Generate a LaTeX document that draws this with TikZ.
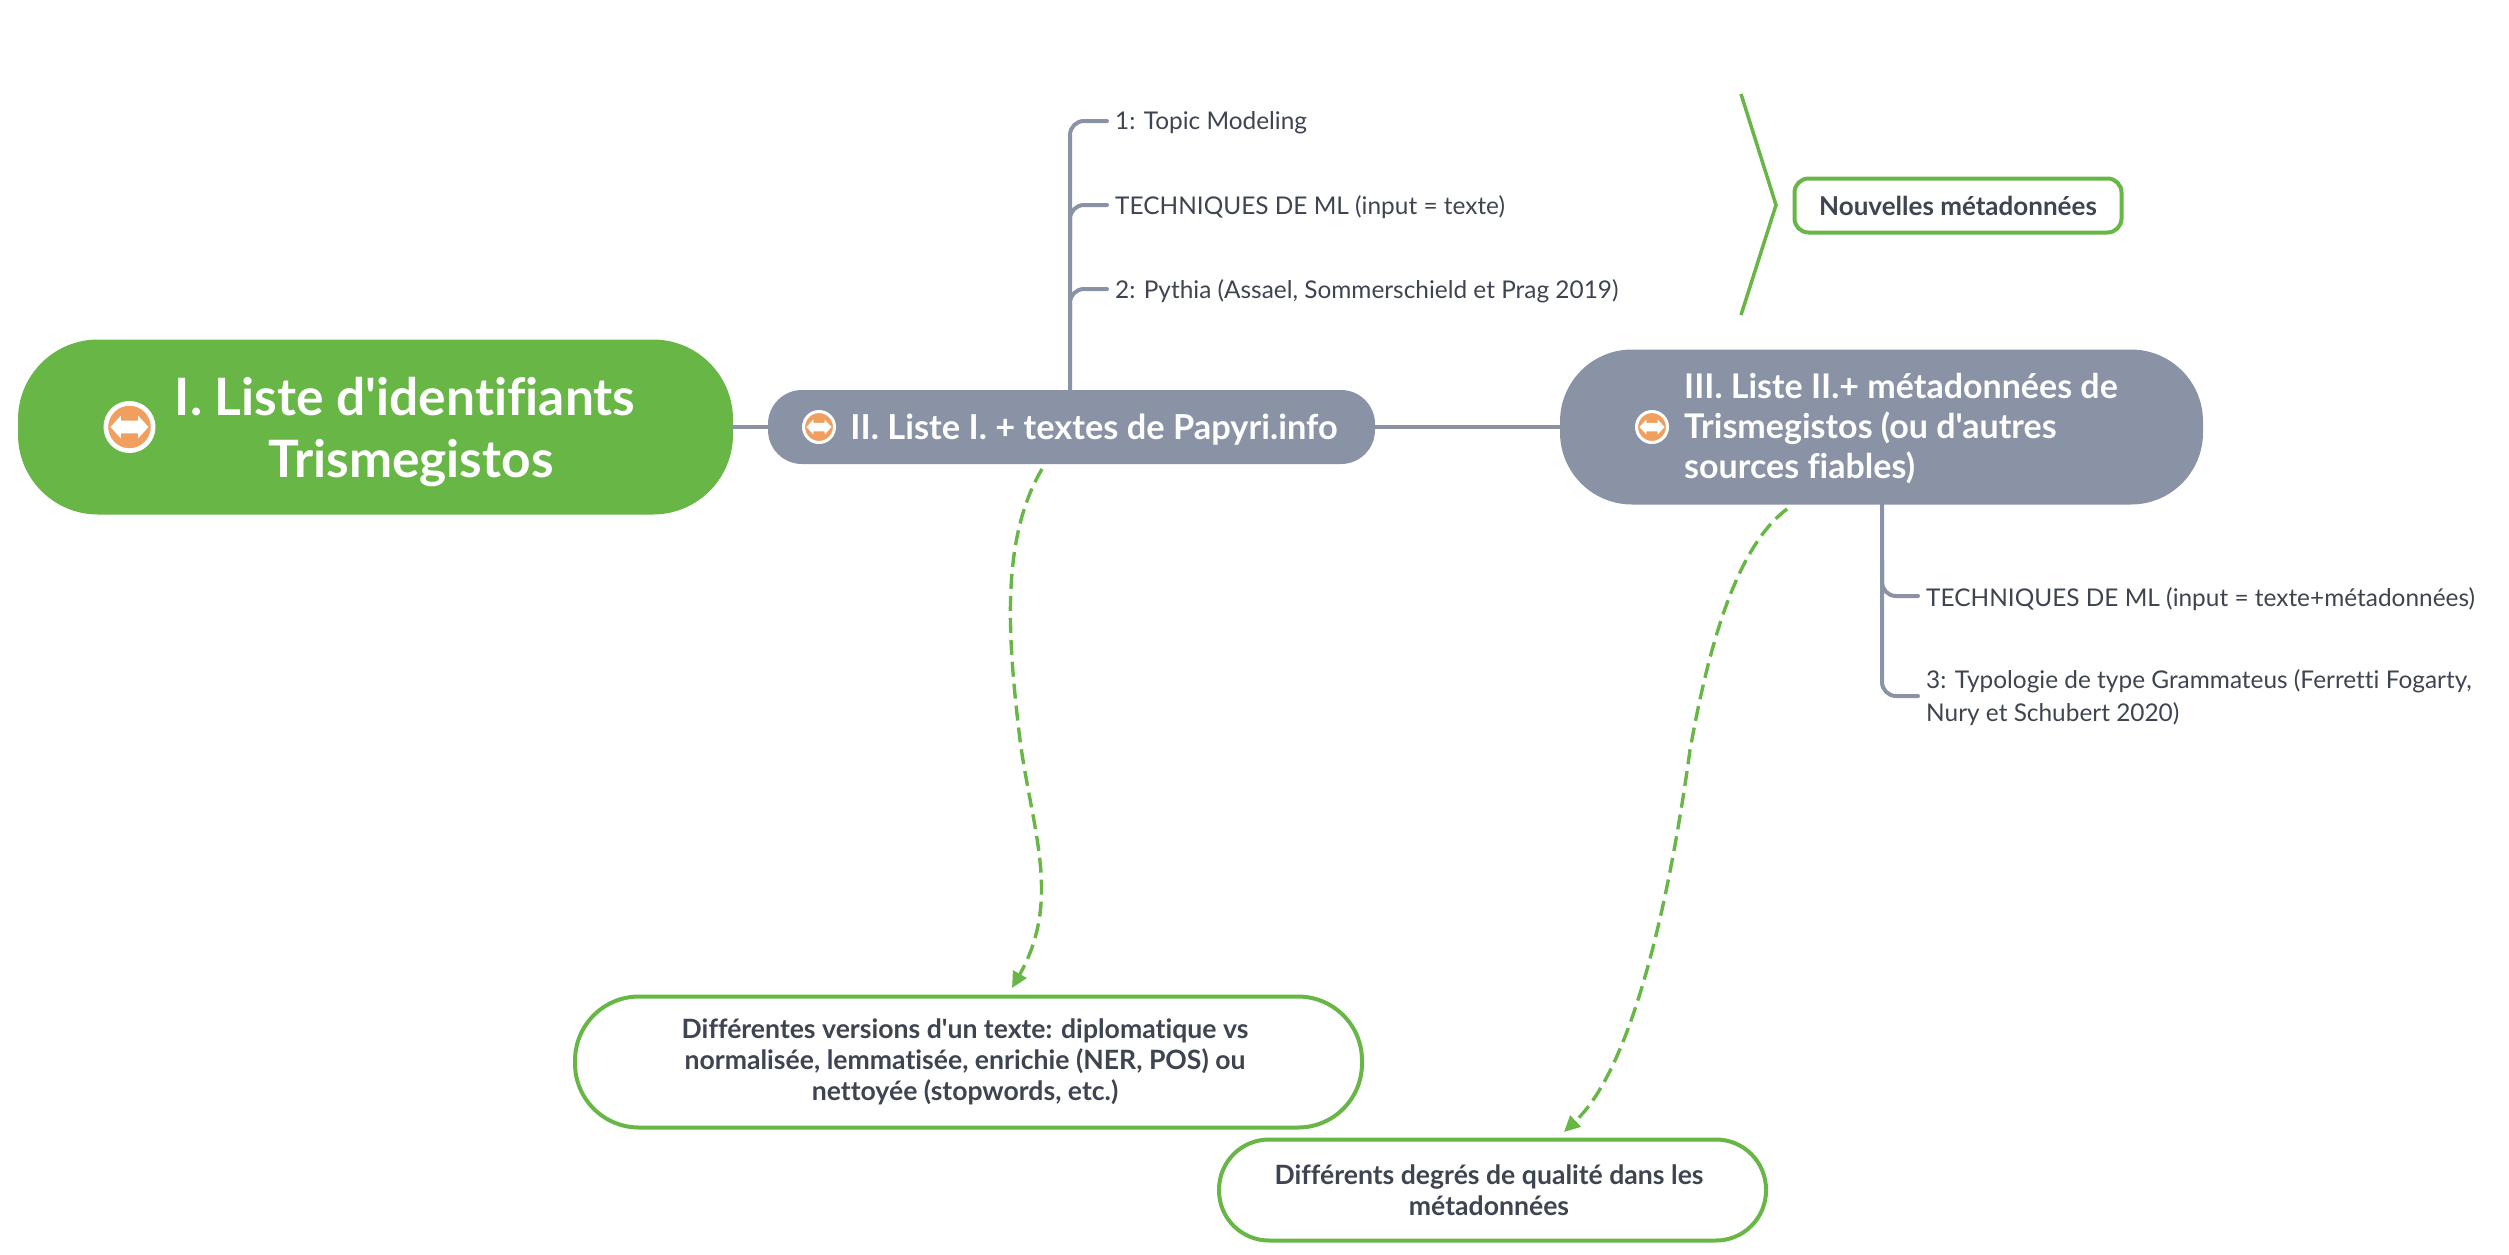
\documentclass[tikz,border=0pt]{standalone}
\usepackage{fontspec}
\setmainfont{Lato}[Ligatures={TeXOff,NoCommon}]
\usetikzlibrary{arrows.meta}
\definecolor{grn}{HTML}{67B646}
\definecolor{gry}{HTML}{8A93A5}
\definecolor{org}{HTML}{F09F5F}
\definecolor{ink}{HTML}{3E4450}
\newcommand{\nudge}{\rule{7pt}{0pt}}
\tikzset{
  x=1pt,y=-1pt,
  topic/.style={fill=#1,draw=none,inner sep=0pt},
  note/.style={draw=grn,line width=4pt,fill=white,text=ink,align=center,font=\fontsize{26.6}{31}\selectfont\bfseries,inner sep=0pt},
  leaf/.style={anchor=west,inner sep=0pt,text=ink,align=left,font=\fontsize{24.4}{33}\selectfont},
  head/.style={text=white,inner sep=0pt,font=\bfseries},
  trunk/.style={draw=gry,line width=4pt,line cap=round},
  link/.style={draw=grn,line width=3.4pt,dash pattern=on 15pt off 7pt,-{Triangle[length=16pt,width=15pt,fill=grn]}},
  ico/.style={circle,fill=org,draw=white,line width=#1*0.18pt,minimum size=#1*1.82pt,inner sep=0pt},
}
\newcommand{\glyph}[2]{% centre node, half-size
  \fill[white,shift={(#1.center)},scale=#2]
    (-1,0) -- (-.45,-.6) -- (-.45,-.34) -- (.45,-.34) -- (.45,-.6) -- (1,0)
    -- (.45,.6) -- (.45,.34) -- (-.45,.34) -- (-.45,.6) -- cycle;}
\begin{document}
\begin{tikzpicture}
\useasboundingbox (0,0) rectangle (2509,1254);
% topic shapes
\node[topic=grn,rounded corners=80pt,minimum width=715pt,minimum height=175pt] (root) at (375.5,427) {};
\node[topic=gry,rounded corners=34pt,minimum width=607pt,minimum height=74pt] (two) at (1071.5,427) {};
\node[topic=gry,rounded corners=72pt,minimum width=643pt,minimum height=155pt] (three) at (1881.5,427) {};
% connectors
\draw[trunk] (root.east) -- (two.west);
\draw[trunk] (two.east) -- (three.west);
\coordinate (t0) at (1070,390);
\coordinate (t1) at (1107,121);
\coordinate (t2) at (1107,205);
\coordinate (t3) at (1107,289);
\draw[trunk,rounded corners=14pt] (t0) -- (1070,121) -- (t1);
\draw[trunk,rounded corners=14pt] (1070,240) -- (1070,205) -- (t2);
\draw[trunk,rounded corners=14pt] (1070,320) -- (1070,289) -- (t3);
\coordinate (u0) at (1882,504);
\coordinate (u1) at (1918,596);
\coordinate (u2) at (1918,696);
\draw[trunk,rounded corners=14pt] (u0) -- (1882,696) -- (u2);
\draw[trunk,rounded corners=14pt] (1882,560) -- (1882,596) -- (u1);
% head text
\node[head,align=center,font=\fontsize{51.5}{62}\selectfont\bfseries] (roottext) at (405,432) {I. Liste d'identifiants\rule{0pt}{0pt}\\\hspace*{12pt}Trismegistos};
\node[head,font=\fontsize{34.4}{40}\selectfont\bfseries] (twotext) at (1094,430) {II. Liste I. + textes de Papyri.info};
\node[head,anchor=west,align=left,font=\fontsize{34}{40}\selectfont\bfseries] (threetext) at (1684,429) {III. Liste II.+ métadonnées de\\Trismegistos (ou d'autres\\sources fiables)};
% icons
\node[ico=26] (i1) at (129.5,427) {};
\glyph{i1}{19}
\node[ico=17] (i2) at (819,427) {};
\glyph{i2}{12.5}
\node[ico=17] (i3) at (1652,427) {};
\glyph{i3}{12.5}
% leaves
\node[leaf] (a1) at (1115,123) {1: Topic Modeling};
\node[leaf] (a2) at (1115,207) {TECHNIQUES DE ML (input = texte)};
\node[leaf] (a3) at (1115,291) {2: Pythia (Assael, Sommerschield et Prag 2019)};
\node[leaf] (b1) at (1926,599) {TECHNIQUES DE ML (input = texte+métadonnées)};
\node[leaf] (b2) at (1926,698) {3: Typologie de type Grammateus (Ferretti Fogarty,\\Nury et Schubert 2020)};
% brace
\coordinate (br1) at (1741,94);
\coordinate (br2) at (1776,205);
\coordinate (br3) at (1741,315);
\draw[grn,line width=3.5pt,line join=miter] (br1) -- (br2) -- (br3);
% notes
\node[note,rounded corners=14pt,minimum width=327pt,minimum height=54pt,font=\fontsize{26}{31}\selectfont\bfseries] (n0) at (1958,205.5) {Nouvelles métadonnées};
\node[note,rounded corners=64pt,minimum width=787pt,minimum height=131pt] (n1) at (968.5,1062) {Différentes versions d'un texte: diplomatique vs\nudge\\normalisée, lemmatisée, enrichie (NER, POS) ou\nudge\\nettoyée (stopwords, etc.)\nudge};
\node[note,rounded corners=50pt,minimum width=547pt,minimum height=101pt] (n2) at (1492.5,1190) {Différents degrés de qualité dans les\nudge\\métadonnées\nudge};
% dashed links
\coordinate (ls) at (1042,469);
\coordinate (le) at (1012,988);
\coordinate (ms) at (1787,509);
\coordinate (me) at (1564,1132);
\draw[link] (ls) .. controls (1000,540) and (1008,640) .. (1020,740) .. controls (1032,830) and (1062,900) .. (le);
\draw[link] (ms) .. controls (1735,548) and (1708,650) .. (1690,750) .. controls (1675,860) and (1640,1060) .. (me);
\end{tikzpicture}
\end{document}
